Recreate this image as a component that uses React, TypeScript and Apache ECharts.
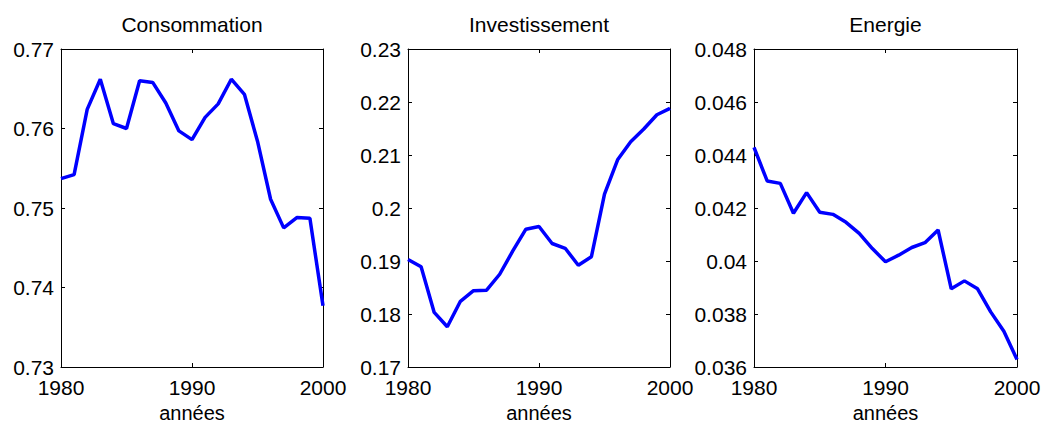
import React, { useEffect, useRef } from "react";
import * as echarts from "echarts";

// Years of observation
const years = [
  1980, 1981, 1982, 1983, 1984, 1985, 1986, 1987, 1988, 1989, 1990,
  1991, 1992, 1993, 1994, 1995, 1996, 1997, 1998, 1999, 2000,
];

// Shares of output
const consommation = [
  0.7537, 0.7542, 0.7624, 0.7662, 0.7606, 0.76, 0.766, 0.7658, 0.7632, 0.7597, 0.7586,
  0.7614, 0.7631, 0.7662, 0.7643, 0.7584, 0.7511, 0.7475, 0.7488, 0.7487, 0.7377,
];
const investissement = [
  0.1903, 0.1889, 0.1803, 0.1776, 0.1824, 0.1844, 0.1845, 0.1875, 0.1919, 0.196, 0.1965,
  0.1933, 0.1924, 0.1892, 0.1908, 0.2026, 0.2091, 0.2125, 0.2149, 0.2176, 0.2188,
];
const energie = [
  0.04429, 0.04302, 0.04293, 0.0418, 0.04258, 0.04184, 0.04176, 0.04146, 0.04104, 0.04047, 0.03997,
  0.04022, 0.04051, 0.04069, 0.04117, 0.03895, 0.03925, 0.03895, 0.03808, 0.03735, 0.03628,
];

const titles = ["Consommation", "Investissement", "Energie"];
const xLabel = "années";
const yRanges = [
  { min: 0.73, max: 0.77, interval: 0.01 },
  { min: 0.17, max: 0.23, interval: 0.01 },
  { min: 0.036, max: 0.048, interval: 0.002 },
];

const FONT = "Liberation Sans, Arial, Helvetica, sans-serif";
const FS = 21;

export default function App() {
  const ref = useRef<HTMLDivElement>(null);

  useEffect(() => {
    if (!ref.current) return;
    const chart = echarts.init(ref.current, undefined, { renderer: "svg" });

    const panels = [
      { left: 61, width: 262 },
      { left: 408, width: 262 },
      { left: 754, width: 263 },
    ];
    const top = 49;
    const height = 318;
    const seriesData = [consommation, investissement, energie];

    const fmt = (v: number) => String(parseFloat(v.toFixed(5)));
    const tick = { show: true, inside: true, length: 4, lineStyle: { color: "#000", width: 1 } };
    const line = { show: true, onZero: false, lineStyle: { color: "#000", width: 1 } };
    const label = { color: "#000", fontFamily: FONT, fontSize: FS };

    const grid: any[] = [];
    const xAxis: any[] = [];
    const yAxis: any[] = [];
    const series: any[] = [];
    const title: any[] = [];

    panels.forEach((p, i) => {
      grid.push({
        left: p.left,
        top,
        width: p.width,
        height,
        containLabel: false,
        outerBoundsMode: "none",
      });
      title.push({
        text: titles[i],
        left: p.left + p.width / 2,
        top: 14,
        textAlign: "center",
        padding: 0,
        textStyle: { color: "#000", fontFamily: FONT, fontSize: FS, fontWeight: "normal" },
      });
      const xBase = {
        type: "value",
        gridIndex: i,
        min: 1980,
        max: 2000,
        interval: 10,
        axisLine: line,
        axisTick: tick,
        splitLine: { show: false },
      };
      xAxis.push({
        ...xBase,
        position: "bottom",
        name: xLabel,
        nameLocation: "middle",
        nameGap: 34,
        nameTextStyle: { color: "#000", fontFamily: FONT, fontSize: 20, lineHeight: 19 },
        axisLabel: { ...label, margin: 10, formatter: (v: number) => String(v) },
      });
      xAxis.push({ ...xBase, position: "top", axisLabel: { show: false } });
      const r = yRanges[i];
      const yBase = {
        type: "value",
        gridIndex: i,
        min: r.min,
        max: r.max,
        interval: r.interval,
        axisLine: line,
        axisTick: tick,
        splitLine: { show: false },
      };
      yAxis.push({ ...yBase, position: "left", axisLabel: { ...label, margin: 7, formatter: fmt } });
      yAxis.push({ ...yBase, position: "right", axisLabel: { show: false } });
      series.push({
        type: "line",
        xAxisIndex: i * 2,
        yAxisIndex: i * 2,
        data: years.map((y, k) => [y, seriesData[i][k]]),
        showSymbol: false,
        lineStyle: { color: "#0000ff", width: 3.5 },
        clip: true,
      });
    });

    chart.setOption({
      animation: false,
      backgroundColor: "#fff",
      title,
      grid,
      xAxis,
      yAxis,
      series,
    });

    return () => chart.dispose();
  }, []);

  return (
    <div
      ref={ref}
      style={{ position: "fixed", left: 0, top: 0, width: 1042, height: 423 }}
    />
  );
}
